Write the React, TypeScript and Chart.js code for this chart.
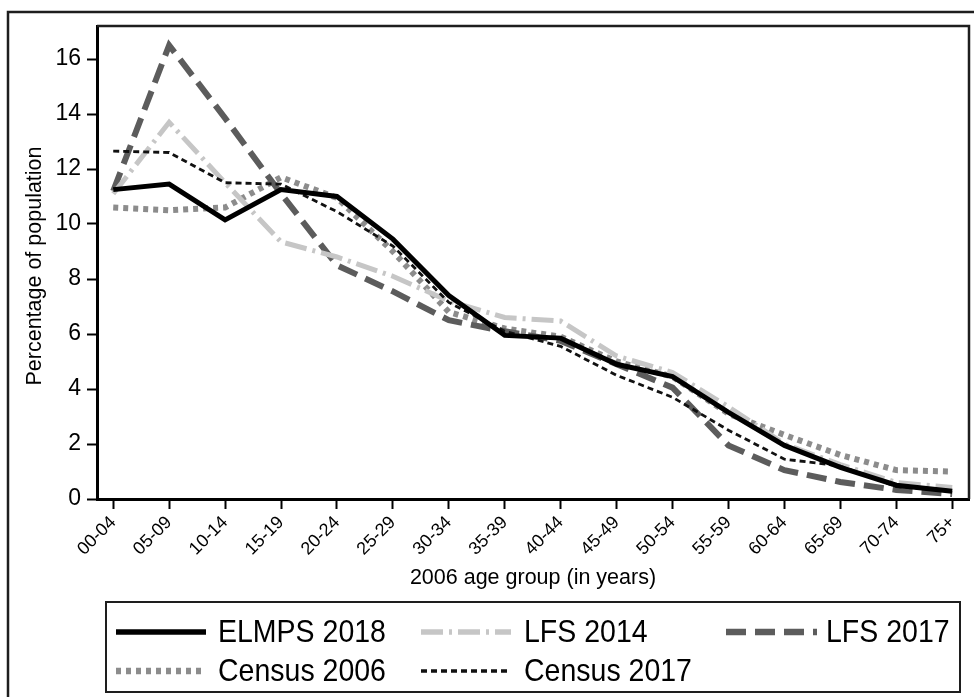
import React, { useEffect, useRef } from 'react';
import { Chart, registerables } from 'chart.js';

Chart.register(...registerables);

const ageGroups = ['00-04', '05-09', '10-14', '15-19', '20-24', '25-29', '30-34', '35-39', '40-44', '45-49', '50-54', '55-59', '60-64', '65-69', '70-74', '75+'];
const elmps2018 = [11.25, 11.45, 10.15, 11.25, 11.0, 9.45, 7.4, 5.95, 5.85, 4.9, 4.45, 3.15, 1.95, 1.15, 0.5, 0.28];
const lfs2014 = [11.1, 13.7, 11.5, 9.35, 8.8, 8.1, 7.2, 6.6, 6.47, 5.2, 4.6, 3.35, 2.0, 1.25, 0.6, 0.42];
const lfs2017 = [11.2, 16.5, 13.85, 11.1, 8.5, 7.55, 6.5, 6.1, 5.75, 4.9, 4.05, 1.95, 1.05, 0.62, 0.33, 0.18];
const census2006 = [10.6, 10.5, 10.6, 11.7, 10.95, 9.0, 6.8, 6.2, 5.9, 5.0, 4.45, 3.1, 2.33, 1.6, 1.05, 1.0];
const census2017 = [12.65, 12.6, 11.5, 11.45, 10.45, 9.2, 7.15, 6.1, 5.55, 4.5, 3.7, 2.5, 1.45, 1.2, 0.45, 0.3];
const yTickValues = [0, 2, 4, 6, 8, 10, 12, 14, 16];

const seriesLabels = ['ELMPS 2018', 'LFS 2014', 'LFS 2017', 'Census 2006', 'Census 2017'];
const seriesValues = [elmps2018, lfs2014, lfs2017, census2006, census2017];

const FONT = '"Liberation Sans", Arial, Helvetica, sans-serif';

const styles = [
  { color: '#000000', width: 5, dash: [] as number[], order: 0 },
  { color: '#c6c6c6', width: 5, dash: [22, 6, 3, 6], order: 2 },
  { color: '#5c5c5c', width: 6, dash: [20, 9], order: 3 },
  { color: '#8c8c8c', width: 6, dash: [5, 5], order: 4 },
  { color: '#111111', width: 2.8, dash: [6, 4], order: 1 },
];

export default function App() {
  const ref = useRef<HTMLCanvasElement>(null);

  useEffect(() => {
    document.body.style.margin = '0';
    document.body.style.background = '#ffffff';
    const canvas = ref.current;
    if (!canvas) return;

    const decorations = {
      id: 'decorations',
      afterDraw(chart: any) {
        const c = chart.ctx as CanvasRenderingContext2D;
        const a = chart.chartArea;
        c.save();
        c.setLineDash([]);
        // outer frame (left and top visible)
        c.strokeStyle = '#1e1e1e';
        c.lineWidth = 2.5;
        c.beginPath();
        c.moveTo(8, 697);
        c.lineTo(8, 12);
        c.lineTo(974, 12);
        c.stroke();
        // plot frame top/right
        c.beginPath();
        c.moveTo(a.left, a.top);
        c.lineTo(a.right, a.top);
        c.lineTo(a.right, a.bottom);
        c.stroke();
        // axis titles
        c.fillStyle = '#000';
        c.font = `21.5px ${FONT}`;
        c.textAlign = 'center';
        c.textBaseline = 'middle';
        c.fillText('2006 age group (in years)', (a.left + a.right) / 2, 578);
        c.save();
        c.translate(35, 266);
        c.rotate(-Math.PI / 2);
        c.fillText('Percentage of population', 0, 0);
        c.restore();
        // legend box
        c.lineWidth = 2;
        c.strokeStyle = '#1e1e1e';
        c.strokeRect(106, 602, 854, 90);
        const slots = [
          { x0: 116, x1: 206, tx: 218, y: 632 },
          { x0: 421, x1: 511, tx: 524, y: 632 },
          { x0: 726, x1: 817, tx: 826, y: 632 },
          { x0: 116, x1: 206, tx: 218, y: 671 },
          { x0: 421, x1: 511, tx: 524, y: 671 },
        ];
        chart.data.datasets.forEach((ds: any, i: number) => {
          const s = slots[i];
          c.save();
          c.strokeStyle = ds.borderColor;
          c.lineWidth = ds.borderWidth + 0.5;
          c.setLineDash(ds.borderDash || []);
          c.beginPath();
          c.moveTo(s.x0, s.y);
          c.lineTo(s.x1, s.y);
          c.stroke();
          c.restore();
          c.save();
          c.fillStyle = '#000';
          c.font = `28.5px ${FONT}`;
          c.textAlign = 'left';
          c.textBaseline = 'middle';
          c.translate(s.tx, s.y + 1);
          c.scale(1, 1.1);
          c.fillText(ds.label, 0, 0);
          c.restore();
        });
        c.restore();
      },
    };

    const tickGrid = {
      drawOnChartArea: false,
      drawTicks: true,
      tickLength: 10,
      tickColor: '#000',
      tickWidth: 2,
    };

    const chart = new Chart(canvas, {
      type: 'line',
      data: {
        datasets: seriesLabels.map((label, i) => ({
          label,
          data: seriesValues[i].map((y, x) => ({ x, y })),
          borderColor: styles[i].color,
          backgroundColor: styles[i].color,
          borderWidth: styles[i].width,
          borderDash: styles[i].dash,
          order: styles[i].order,
          pointRadius: 0,
          tension: 0,
          fill: false,
        })),
      },
      options: {
        animation: false,
        responsive: false,
        layout: { padding: { left: 0, top: 26, right: 5, bottom: 0 } },
        plugins: { legend: { display: false }, tooltip: { enabled: false } },
        elements: { line: { borderCapStyle: 'butt', borderJoinStyle: 'miter' } },
        scales: {
          x: {
            type: 'linear',
            min: -0.29,
            max: 15.3,
            afterFit: (s: any) => { s.height = 198; },
            afterBuildTicks: (s: any) => { s.ticks = ageGroups.map((_, i) => ({ value: i })); },
            ticks: {
              autoSkip: false,
              maxRotation: 45,
              minRotation: 45,
              font: { size: 18, family: FONT },
              color: '#000',
              padding: 3,
              callback: (v: any) => ageGroups[v as number] ?? '',
            },
            grid: tickGrid,
            border: { display: true, color: '#000', width: 3 },
          },
          y: {
            min: 0,
            max: 17.2,
            afterFit: (s: any) => { s.width = 97; },
            afterBuildTicks: (s: any) => { s.ticks = yTickValues.map((v) => ({ value: v })); },
            ticks: {
              font: { size: 23, family: FONT },
              color: '#000',
              padding: 6,
            },
            grid: tickGrid,
            border: { display: true, color: '#000', width: 3 },
          },
        },
      },
      plugins: [decorations],
    } as any);

    return () => chart.destroy();
  }, []);

  return <canvas ref={ref} width={974} height={697} style={{ display: 'block' }} />;
}
